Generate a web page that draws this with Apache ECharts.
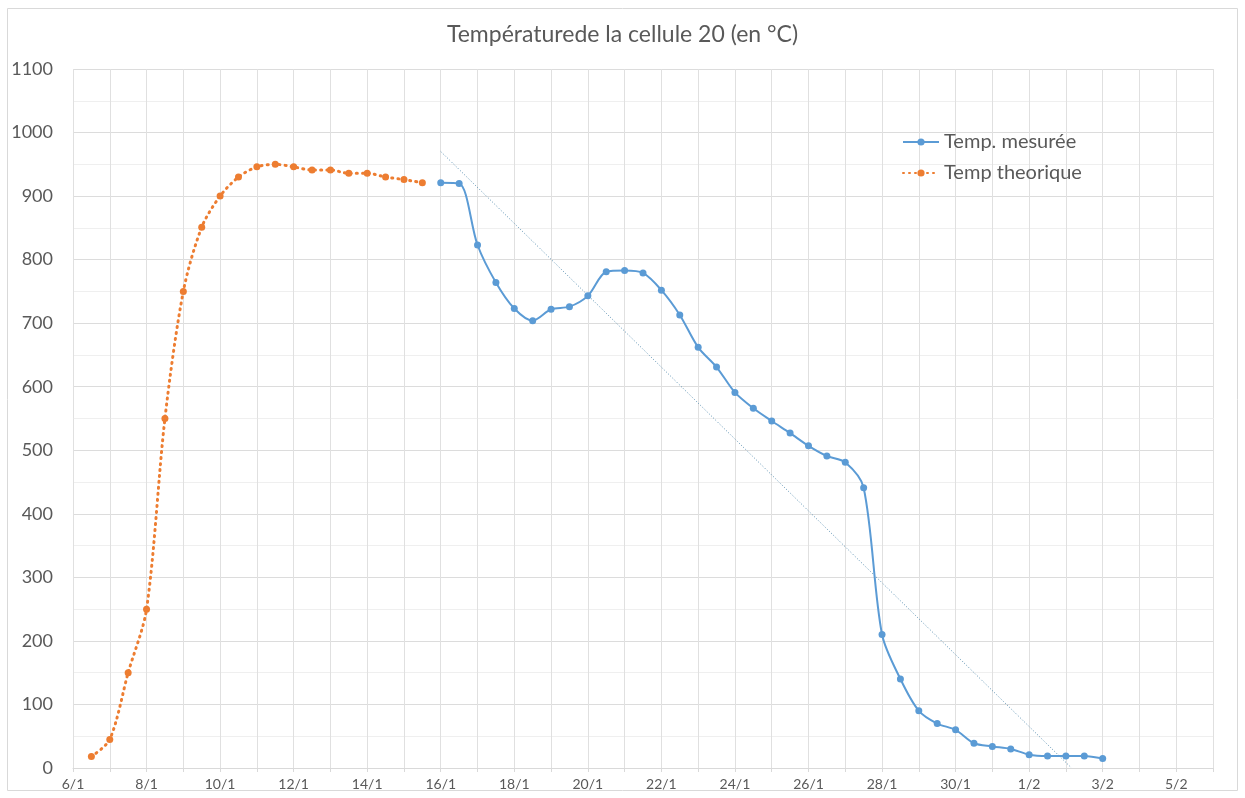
<!DOCTYPE html>
<html><head><meta charset="utf-8">
<script src="https://cdn.jsdelivr.net/npm/echarts@6/dist/echarts.min.js"></script>
<style>html,body{margin:0;padding:0;background:#fff}#c{width:1245px;height:798px}</style>
</head><body><div id="c"></div>
<script>
// x values: days after 6 January
const theoryDays = [0.5,1,1.5,2,2.5,3,3.5,4,4.5,5,5.5,6,6.5,7,7.5,8,8.5,9,9.5];
const theoryTemp = [18,45,150,250,550,750,851,900,930,946,950,946,941,941,936,936,930,926,921];
const measuredDays = [10,10.5,11,11.5,12,12.5,13,13.5,14,14.5,15,15.5,16,16.5,17,17.5,18,18.5,19,19.5,20,20.5,21,21.5,22,22.5,23,23.5,24,24.5,25,25.5,26,26.5,27,27.5,28];
const measuredTemp = [921,920,823,764,723,704,722,726,743,781,783,779,752,713,662,631,591,566,546,527,507,491,481,441,210,140,90,70,60,39,34,30,21,19,19,19,15];
const yTicks = [0,100,200,300,400,500,600,700,800,900,1000,1100];
const titleText = 'Températurede la cellule 20 (en °C)';
const seriesNames = ['Temp. mesurée','Temp theorique'];

function dayLabel(d){
  const day = 6 + d;
  return day <= 31 ? day + '/1' : (day - 31) + '/2';
}
// linear trendline of measured series (least squares), clipped at 0
const n = measuredDays.length;
const mx = measuredDays.reduce((a,b)=>a+b,0)/n;
const my = measuredTemp.reduce((a,b)=>a+b,0)/n;
let sxy=0,sxx=0;
for(let i=0;i<n;i++){sxy+=(measuredDays[i]-mx)*(measuredTemp[i]-my);sxx+=(measuredDays[i]-mx)**2;}
const slope = sxy/sxx, icpt = my - slope*mx;
const x0 = measuredDays[0];
let x1 = measuredDays[n-1];
if (icpt + slope*x1 < 0) x1 = -icpt/slope;
const trend = [[x0, icpt+slope*x0],[x1, icpt+slope*x1]];

const FONT = 'Lato';
const chart = echarts.init(document.getElementById('c'));
chart.setOption({
  animation:false,
  textStyle:{fontFamily:FONT},
  title:{text:titleText,left:'center',top:18,textStyle:{fontFamily:FONT,fontSize:23,fontWeight:'normal',color:'#595959'}},
  graphic:[{type:'rect',shape:{x:7.5,y:8.5,width:1230,height:782},style:{fill:'none',stroke:'#d9d9d9',lineWidth:1},silent:true,z:-1}],
  legend:{orient:'vertical',left:897,top:127,itemGap:11,itemWidth:36,itemHeight:9,
    data:seriesNames,textStyle:{fontFamily:FONT,fontSize:20,color:'#595959'}},
  grid:{left:73,right:32,top:69,bottom:30,containLabel:false},
  xAxis:{type:'value',min:0,max:31,interval:1,
    axisLine:{show:true,lineStyle:{color:'#d9d9d9'}},
    axisTick:{show:true,length:4,lineStyle:{color:'#d9d9d9'}},
    splitLine:{show:true,lineStyle:{color:'#e0e0e0'}},
    axisLabel:{fontSize:14,color:'#595959',margin:9,fontFamily:FONT,
      formatter:v=> (v%2===0 ? dayLabel(v) : '')}},
  yAxis:{type:'value',min:yTicks[0],max:yTicks[yTicks.length-1],interval:100,
    axisLine:{show:false},axisTick:{show:false},
    splitLine:{show:true,lineStyle:{color:'#dcdcdc'}},
    minorTick:{show:false,splitNumber:2},
    minorSplitLine:{show:true,lineStyle:{color:'#efefef'}},
    axisLabel:{fontSize:18,color:'#595959',margin:20,fontFamily:FONT,formatter:v=>String(v)}},
  series:[
    {name:seriesNames[0],type:'line',data:measuredDays.map((d,i)=>[d,measuredTemp[i]]),
      smooth:0.3,symbol:'circle',symbolSize:7,
      lineStyle:{color:'#5B9BD5',width:2},itemStyle:{color:'#5B9BD5'},z:3},
    {name:seriesNames[1],type:'line',data:theoryDays.map((d,i)=>[d,theoryTemp[i]]),
      smooth:0.3,symbol:'circle',symbolSize:7,
      lineStyle:{color:'#ED7D31',width:3,type:[1,5],cap:'round'},itemStyle:{color:'#ED7D31'},z:3},
    {name:'trend',type:'line',data:trend,symbol:'none',silent:true,
      lineStyle:{color:'#5a8fb0',width:1,type:[1,2]},z:2}
  ]
});
</script></body></html>
